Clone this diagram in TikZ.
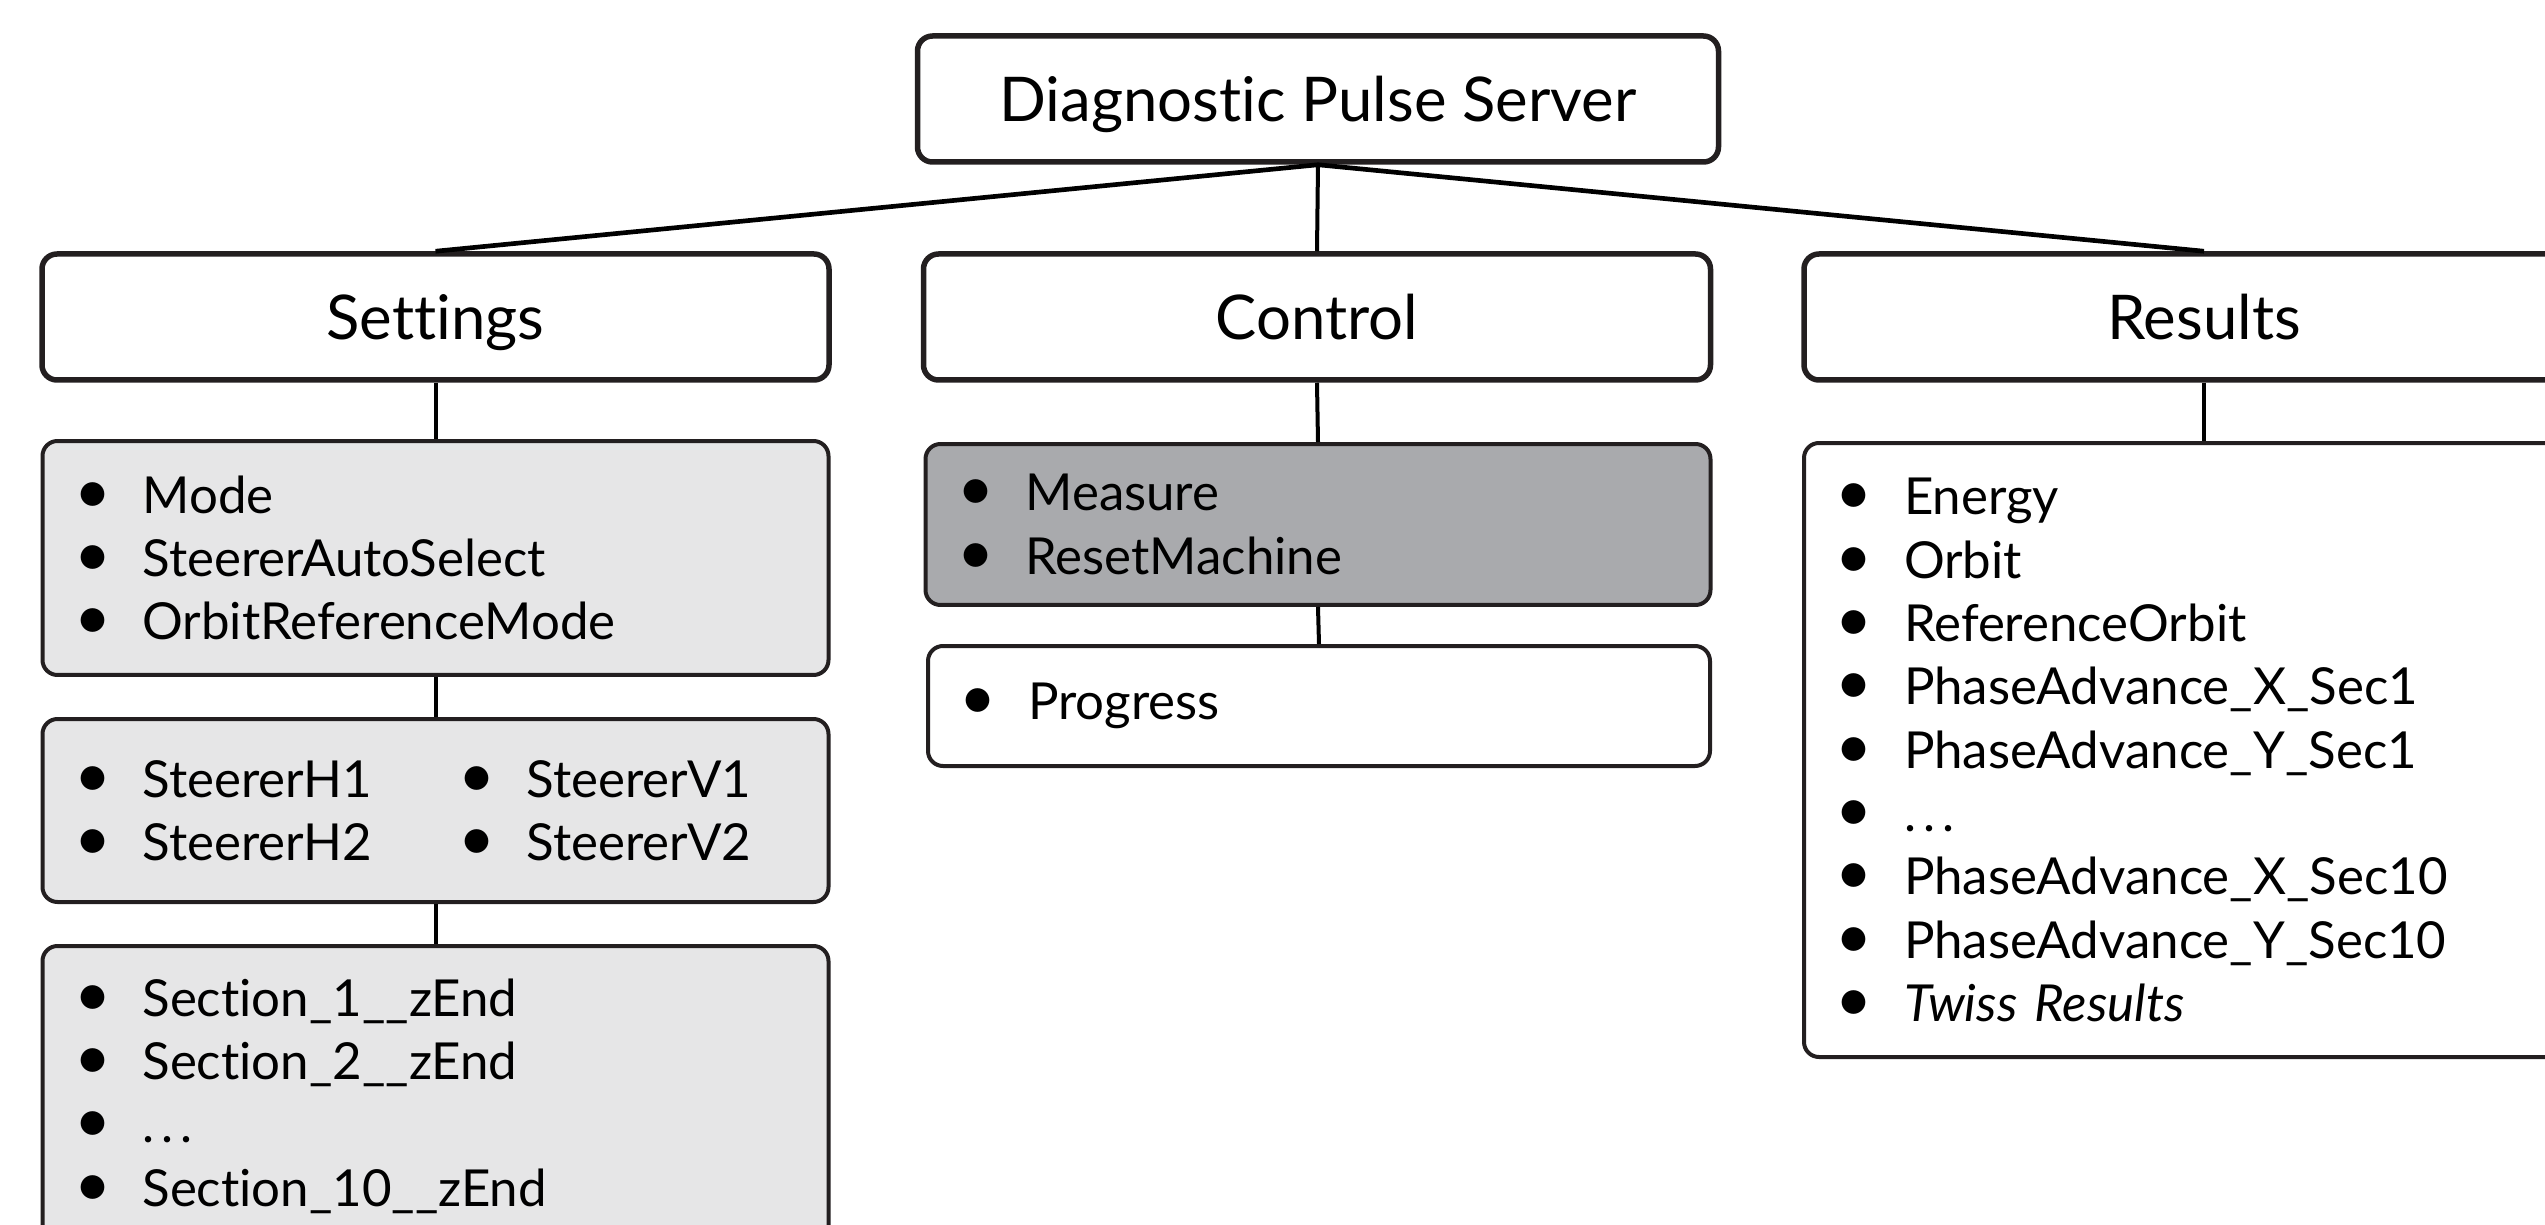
\documentclass[tikz,border=0pt]{standalone}
\usepackage{fontspec}
\setmainfont{Lato}[Ligatures=NoCommon]

\definecolor{boxline}{HTML}{231F20}
\definecolor{lightfill}{HTML}{E6E6E7}
\definecolor{darkfill}{HTML}{A9AAAD}

\tikzset{every picture/.style={line width=0.75pt}}
\tikzset{
  headbox/.style={draw=boxline, line width=1.65pt, rounded corners=4.5pt, minimum height=37.8pt, inner sep=0pt, text depth=0pt, font=\fontsize{18.5}{22}\selectfont},
  listbox/.style={draw=boxline, line width=1.2pt, rounded corners=4.5pt, align=left, inner xsep=9.9pt, inner ysep=0pt, font=\fontsize{15.3}{19}\selectfont},
  link/.style={draw=black, line width=1.4pt},
  stem/.style={draw=black, line width=1.2pt}
}
\newcommand{\itm}[1]{\makebox[10.3pt][c]{\scalebox{1.25}{\textbullet}}\hspace{9.8pt}#1}
\newcommand{\dotsgap}{.\kern0.14em.\kern0.14em.}

\begin{document}
\begin{tikzpicture}[x=0.3pt,y=0.3pt,yscale=-1]
\useasboundingbox (0,0) rectangle (2545,1225);
\clip (0,0) rectangle (2545,1225);

% Text Node
\node [headbox, minimum width=240.3pt] (dps) at (1318,99) {Diagnostic Pulse Server};
% Text Node
\node [headbox, minimum width=236.1pt] (settings) at (435.5,317) {Settings};
% Text Node
\node [headbox, minimum width=236.1pt] (control) at (1317,317) {Control};
% Text Node
\node [headbox, minimum width=240pt] (results) at (2204,317) {Results};

%Rounded Rect
\node [listbox, fill=lightfill, text width=216pt, minimum height=70.2pt] (setmode) at (435.5,558) {\itm{Mode}\\ \itm{SteererAutoSelect}\\ \itm{OrbitReferenceMode}};
%Rounded Rect
\node [listbox, fill=lightfill, text width=216pt, minimum height=54.9pt] (setsteer) at (435.5,810.5) {\makebox[115.2pt][l]{\itm{SteererH1}}\itm{SteererV1}\\ \makebox[115.2pt][l]{\itm{SteererH2}}\itm{SteererV2}};
%Rounded Rect
\node [listbox, fill=lightfill, text width=216pt, minimum height=90pt] (setsect) at (435.5,1096) {\itm{Section\_1\_\_zEnd}\\ \itm{Section\_2\_\_zEnd}\\ \itm{\dotsgap}\\ \itm{Section\_10\_\_zEnd}};
%Rounded Rect
\node [listbox, fill=darkfill, text width=215.7pt, minimum height=48.3pt] (ctlcmd) at (1318,524.5) {\itm{Measure}\\ \itm{ResetMachine}};
%Rounded Rect
\node [listbox, fill=white, text width=214.8pt, minimum height=36pt] (ctlprog) at (1319,706) {\itm{Progress}};
%Rounded Rect
\node [listbox, fill=white, text width=220.2pt, minimum height=184.2pt] (resvals) at (2204,750) {\itm{Energy}\\ \itm{Orbit}\\ \itm{ReferenceOrbit}\\ \itm{PhaseAdvance\_X\_Sec1}\\ \itm{PhaseAdvance\_Y\_Sec1}\\ \itm{\dotsgap}\\ \itm{PhaseAdvance\_X\_Sec10}\\ \itm{PhaseAdvance\_Y\_Sec10}\\ \itm{\textit{Twiss Results}}};

%Straight Lines
\draw [link] (dps.south) -- (settings.north);
\draw [stem] (dps.south) -- (control.north);
\draw [link] (dps.south) -- (results.north);
%Straight Lines
\draw [stem] (settings.south) -- (setmode.north);
\draw [stem] (setmode.south) -- (setsteer.north);
\draw [stem] (setsteer.south) -- (setsect.north);
\draw [stem] (control.south) -- (ctlcmd.north);
\draw [stem] (ctlcmd.south) -- (ctlprog.north);
\draw [stem] (results.south) -- (resvals.north);

\end{tikzpicture}
\end{document}
